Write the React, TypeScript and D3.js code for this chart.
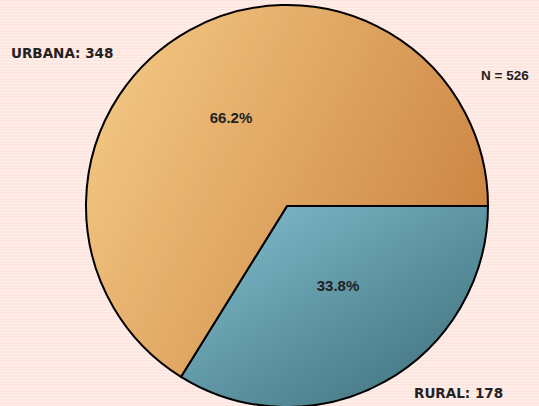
import React, { useEffect, useRef } from 'react';
import * as d3 from 'd3';

const categories = ['RURAL', 'URBANA'];
const counts = [178, 348];
const percentLabels = ['33.8%', '66.2%'];
const totalLabel = 'N = 526';

const W = 539;
const H = 406;

function App() {
  const ref = useRef<SVGSVGElement>(null);

  useEffect(() => {
    const svg = d3.select(ref.current);
    svg.selectAll('*').remove();

    const defs = svg.append('defs');

    // striped pink background
    const pat = defs.append('pattern')
      .attr('id', 'stripes')
      .attr('width', 8)
      .attr('height', 3)
      .attr('patternUnits', 'userSpaceOnUse');
    pat.append('rect').attr('width', 8).attr('height', 3).attr('fill', '#fde5e0');
    pat.append('rect').attr('y', 2).attr('width', 8).attr('height', 1).attr('fill', '#fff0ec');

    const gradRural = defs.append('linearGradient')
      .attr('id', 'gRural')
      .attr('x1', 0).attr('y1', 0).attr('x2', 1).attr('y2', 1);
    gradRural.append('stop').attr('offset', '0%').attr('stop-color', '#84c0d0');
    gradRural.append('stop').attr('offset', '100%').attr('stop-color', '#3a6b77');

    const gradUrb = defs.append('linearGradient')
      .attr('id', 'gUrbana')
      .attr('x1', 0).attr('y1', 0.15).attr('x2', 1).attr('y2', 0.6);
    gradUrb.append('stop').attr('offset', '0%').attr('stop-color', '#f4ca85');
    gradUrb.append('stop').attr('offset', '100%').attr('stop-color', '#cc8442');

    svg.append('rect').attr('width', W).attr('height', H).attr('fill', 'url(#stripes)');

    const cx = 287, cy = 206, r = 201;

    const pie = d3.pie<number>()
      .sort(null)
      .startAngle(Math.PI / 2)
      .endAngle(Math.PI / 2 + 2 * Math.PI);
    const arcs = pie(counts);
    const arc = d3.arc<d3.PieArcDatum<number>>().innerRadius(0).outerRadius(r);

    const g = svg.append('g').attr('transform', `translate(${cx},${cy})`);
    const fills = ['url(#gRural)', 'url(#gUrbana)'];

    g.selectAll('path')
      .data(arcs)
      .join('path')
      .attr('d', arc)
      .attr('fill', (d, i) => fills[i])
      .attr('stroke', '#000')
      .attr('stroke-width', 2)
      .attr('stroke-linejoin', 'miter');

    const pctPos = [[51, 85], [-56, -83]];
    g.selectAll('text.pct')
      .data(arcs)
      .join('text')
      .attr('class', 'pct')
      .attr('x', (d, i) => pctPos[i][0])
      .attr('y', (d, i) => pctPos[i][1])
      .attr('text-anchor', 'middle')
      .attr('font-family', '"Liberation Sans", Arial, sans-serif')
      .attr('font-weight', 'bold')
      .attr('font-size', 15)
      .attr('fill', '#222')
      .text((d, i) => percentLabels[i]);

    const labelFont = '"DejaVu Sans", Verdana, sans-serif';
    svg.append('text')
      .attr('x', 11).attr('y', 58)
      .attr('font-family', labelFont)
      .attr('font-weight', 'bold')
      .attr('font-size', 13.5)
      .attr('fill', '#222')
      .text(`${categories[1]}: ${counts[1]}`);

    svg.append('text')
      .attr('x', 414).attr('y', 398)
      .attr('font-family', labelFont)
      .attr('font-weight', 'bold')
      .attr('font-size', 13.5)
      .attr('fill', '#222')
      .text(`${categories[0]}: ${counts[0]}`);

    svg.append('text')
      .attr('x', 481).attr('y', 80)
      .attr('font-family', '"Liberation Sans", Arial, sans-serif')
      .attr('font-weight', 'bold')
      .attr('font-size', 13.5)
      .attr('fill', '#222')
      .text(totalLabel);
  }, []);

  return (
    <svg ref={ref} width={W} height={H}
      style={{ position: 'absolute', left: 0, top: 0, display: 'block' }} />
  );
}

export default App;
